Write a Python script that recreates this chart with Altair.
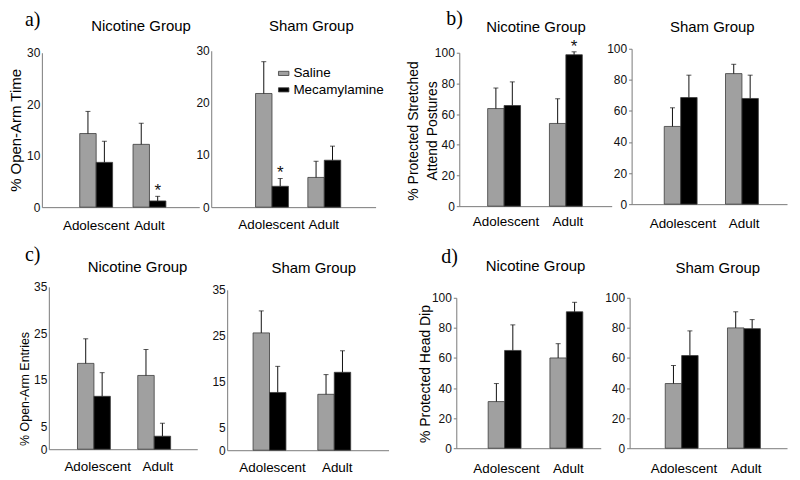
import altair as alt
import pandas as pd

SANS = "Liberation Sans"
SERIF = "Liberation Serif"

ages = ["Adolescent", "Adult"]
treatments = ["Saline", "Mecamylamine"]

# order: Adolescent-Saline, Adolescent-Mecamylamine, Adult-Saline, Adult-Mecamylamine
a_nic_mean = [14.3, 8.7, 12.2, 1.2]
a_nic_upper = [18.6, 12.8, 16.3, 2.1]
a_sham_mean = [21.8, 4.0, 5.7, 9.0]
a_sham_upper = [27.9, 5.5, 8.8, 11.7]
b_nic_mean = [63.6, 65.6, 53.9, 98.7]
b_nic_upper = [77.0, 81.0, 70.0, 100.6]
b_sham_mean = [50.0, 68.6, 84.0, 68.0]
b_sham_upper = [62.0, 83.0, 90.0, 83.0]
c_nic_mean = [18.5, 11.4, 15.9, 2.8]
c_nic_upper = [23.8, 16.5, 21.5, 5.6]
c_sham_mean = [25.6, 12.6, 12.2, 17.0]
c_sham_upper = [30.4, 18.3, 16.5, 21.7]
d_nic_mean = [31.0, 65.0, 60.0, 90.7]
d_nic_upper = [43.0, 82.0, 69.5, 97.0]
d_sham_mean = [43.0, 61.6, 80.0, 79.5]
d_sham_upper = [55.0, 78.0, 90.7, 85.5]

a_nic_stars = ["", "", "", "*"]
a_sham_stars = ["", "*", "", ""]
b_nic_stars = ["", "", "", "*"]
no_stars = ["", "", "", ""]

a_ticks = [0, 10, 20, 30]
b_ticks = [0, 20, 40, 60, 80, 100]
c_ticks = [0, 5, 15, 25, 35]
d_ticks = [0, 20, 40, 60, 80, 100]

group_titles = ["Nicotine Group", "Sham Group"]
panel_letters = ["a)", "b)", "c)", "d)"]
y_titles = ["% Open-Arm Time", ["% Protected Stretched", "Attend Postures"],
            "% Open-Arm Entries", "% Protected Head Dip"]

GRAY = "#a0a0a0"
AXC = "#7a7a7a"


def band(width, c1, c2, gw):
    step = c2 - c1
    pi = 1 - gw / step
    po = (width / step - 2 + pi) / 2
    al = (c1 - gw / 2) / (width - step * (2 - pi))
    return dict(paddingInner=round(pi, 4), paddingOuter=round(po, 4), align=round(al, 4))


def text_layer(txt, font, size, x, y, align):
    return alt.Chart(pd.DataFrame({"t": [txt]})).mark_text(
        font=font, fontSize=size, align=align, baseline="alphabetic", color="black"
    ).encode(text="t:N", x=alt.value(x), y=alt.value(y))


def panel(means, uppers, stars, ymax, ticks, width, height, yrange, bandp,
          title, toff, tdx, xpad, ytitle=None, tx=0, ty=0, tsize=15,
          ytick=0, letter=None, lx=0, ly=0, legend=None):
    rows = []
    k = 0
    for a in ages:
        for t in treatments:
            rows.append({"age": a, "treatment": t, "mean": means[k],
                         "upper": uppers[k], "star": stars[k]})
            k += 1
    df = pd.DataFrame(rows)
    base = alt.Chart(df)
    x = alt.X("age:N", sort=ages, scale=alt.Scale(domain=ages, **bandp),
              axis=alt.Axis(title=None, labelAngle=0, ticks=False, tickSize=0,
                            labelPadding=xpad, labelFont=SANS, labelFontSize=13.5,
                            labelColor="black", domainColor=AXC, grid=False))
    xo = alt.XOffset("treatment:N", sort=treatments,
                     scale=alt.Scale(domain=treatments, paddingInner=0, paddingOuter=0))
    ysc = alt.Scale(domain=[0, ymax], range=yrange, nice=False)
    ax_kw = dict(values=ticks, tickCount=len(ticks) + 1, labelFont=SANS, labelFontSize=12,
                 labelColor="#111", labelPadding=2, labelOverlap=False, domainColor=AXC,
                 grid=False, ticks=ytick > 0, tickSize=ytick, tickColor=AXC)
    if ytitle is not None:
        ax_kw.update(title=ytitle, titleX=tx, titleY=ty, titleAngle=270,
                     titleBaseline="middle", titleAlign="center", titleFont=SANS,
                     titleFontSize=tsize, titleFontWeight="normal", titleColor="black",
                     titleLineHeight=19)
    else:
        ax_kw.update(title=None)
    fill_kw = dict(scale=alt.Scale(domain=treatments, range=[GRAY, "#000000"]))
    fill_kw["legend"] = legend
    bars = base.mark_bar(stroke="#3c3c3c", strokeWidth=0.8).encode(
        x=x, xOffset=xo,
        y=alt.Y("mean:Q", scale=ysc, axis=alt.Axis(**ax_kw)),
        fill=alt.Fill("treatment:N", **fill_kw))
    rules = base.mark_rule(color="#111", strokeWidth=1).encode(
        x=x, xOffset=xo, y="mean:Q", y2="upper:Q")
    caps = base.mark_tick(orient="horizontal", color="#111", size=5, thickness=1).encode(
        x=x, xOffset=xo, y="upper:Q")
    star = base.mark_text(font=SANS, fontSize=17, baseline="alphabetic", color="#111").encode(
        x=x, xOffset=xo, y="upper:Q", text="star:N")
    layers = [bars, rules, caps, star,
              text_layer(title, SANS, 15, width / 2 + tdx, -toff, "center")]
    if letter is not None:
        layers.append(text_layer(letter, SERIF, 20, lx, ly, "left"))
    return alt.layer(*layers).properties(width=width, height=height)


def spacer(w):
    return alt.Chart(pd.DataFrame({"s": [0]})).mark_point(size=0, opacity=0).encode(
        x=alt.value(w / 2), y=alt.value(0)).properties(width=w, height=1)


leg = alt.Legend(orient="none", legendX=66, legendY=18, title=None, labelFont=SANS,
                 labelFontSize=13.5, labelColor="black",
                 symbolType="M-1,-0.4L1,-0.4L1,0.4L-1,0.4Z", symbolSize=110,
                 symbolStrokeColor="#3c3c3c", symbolStrokeWidth=0.8,
                 labelOffset=3, rowPadding=1.5, padding=0)

nicA = panel(a_nic_mean, a_nic_upper, a_nic_stars, 30, a_ticks, 158, 159, [159, 4],
             band(158, 54.5, 108, 33), group_titles[0], 17.5, 20.5, 11,
             ytitle=y_titles[0], tx=-26, ty=81.5, tsize=15,
             letter=panel_letters[0], lx=-17, ly=-23)
shamA = panel(a_sham_mean, a_sham_upper, a_sham_stars, 30, a_ticks, 165, 159, [159, 2],
              band(165, 60.5, 113, 32), group_titles[1], 17.5, 18, 10, legend=leg)
nicB = panel(b_nic_mean, b_nic_upper, b_nic_stars, 100, b_ticks, 153, 158, [158, 4],
             band(153, 47, 109, 37), group_titles[0], 17, 0.5, 8,
             ytitle=y_titles[1], tx=-46, ty=82, tsize=14, ytick=3,
             letter=panel_letters[1], lx=-13, ly=-24)
shamB = panel(b_sham_mean, b_sham_upper, no_stars, 100, b_ticks, 156, 156, [156, 0],
              band(156, 51.5, 113, 37.5), group_titles[1], 17, 3, 12, ytick=3)

nicC = panel(c_nic_mean, c_nic_upper, no_stars, 35, c_ticks, 149, 163, [163, 0],
             band(149, 49, 109.5, 40.5), group_titles[0], 15, 14.5, 10.5,
             ytitle=y_titles[2], tx=-24.5, ty=102, tsize=12.5,
             letter=panel_letters[2], lx=-24, ly=-26)
shamC = panel(c_sham_mean, c_sham_upper, no_stars, 35, c_ticks, 162, 164, [164, 3],
              band(162, 45.5, 110.5, 39), group_titles[1], 14, 6, 10)
nicD = panel(d_nic_mean, d_nic_upper, no_stars, 100, d_ticks, 145, 162, [162, 11],
             band(145, 50.5, 112.5, 37), group_titles[0], 16, 7, 13.5,
             ytitle=y_titles[3], tx=-30.5, ty=87, tsize=14, ytick=3,
             letter=panel_letters[3], lx=-15, ly=-24)
shamD = panel(d_sham_mean, d_sham_upper, no_stars, 100, d_ticks, 158, 162, [162, 11],
              band(158, 54.5, 117, 37.5), group_titles[1], 14, 9.5, 13.5, ytick=3)

row1 = alt.hconcat(spacer(34), nicA, spacer(12), shamA, spacer(84), nicB, spacer(20), shamB,
                   spacing=0, bounds="flush").resolve_scale(fill="independent")
row2 = alt.hconcat(spacer(41), nicC, spacer(30), shamC, spacer(68), nicD, spacer(29), shamD,
                   spacing=0, bounds="flush").resolve_scale(fill="independent")

chart = alt.vconcat(row1, row2, spacing=13).resolve_scale(fill="independent").properties(
    padding={"left": 0, "top": 0, "right": 5, "bottom": 5}
).configure(font=SANS, background="white").configure_view(strokeWidth=0)

chart.save("out.html", embed_options={"renderer": "svg", "actions": False})
